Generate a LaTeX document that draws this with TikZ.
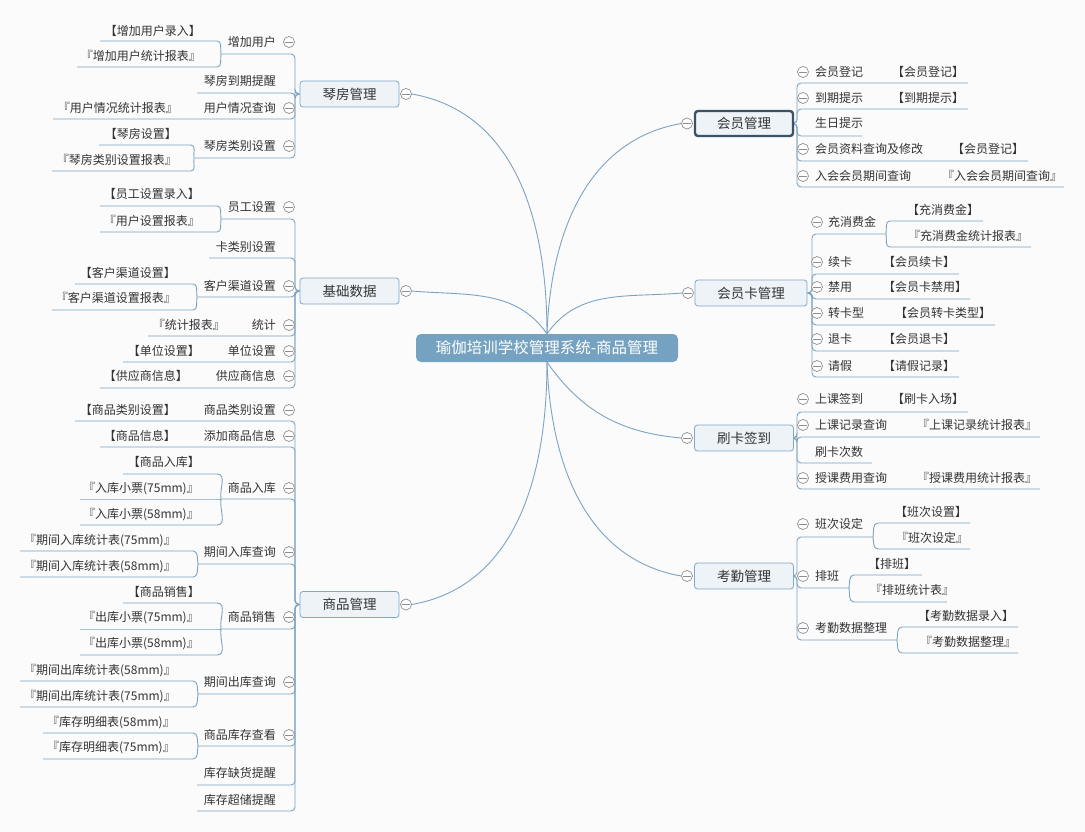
\documentclass[tikz,border=0pt]{standalone}
\usepackage{fontspec}
\setmainfont{Noto Sans CJK SC}
\usetikzlibrary{positioning}
\definecolor{bgc}{HTML}{FBFBFB}
\definecolor{lnc}{HTML}{7BA3C4}
\definecolor{bfill}{HTML}{EEF3F8}
\definecolor{bbord}{HTML}{7FA8C9}
\definecolor{darkb}{HTML}{3C5366}
\definecolor{tfill}{HTML}{76A2C2}
\definecolor{cgray}{HTML}{8E8E8E}
\definecolor{txt}{HTML}{333333}
\pgfdeclarelayer{bg}
\pgfdeclarelayer{lines}
\pgfsetlayers{bg,lines,main}
\tikzset{
  ln/.style={draw=lnc,line width=0.9pt},
  sub/.style={font=\fontsize{12}{14}\selectfont,text=txt,inner sep=0pt,text height=11pt,text depth=2pt},
  mainbox/.style={draw=bbord,fill=bfill,rounded corners=3pt,minimum width=99pt,minimum height=26pt,inner sep=0pt,font=\fontsize{13.5}{16}\selectfont,text=txt,line width=0.8pt},
  darkbox/.style={mainbox,draw=darkb,line width=2.4pt,minimum width=98pt,minimum height=25pt},
  titlebox/.style={fill=tfill,rounded corners=5pt,minimum width=262pt,minimum height=28pt,inner sep=0pt,text=white,font=\fontsize{15.5}{18}\selectfont},
  circ/.style={circle,draw=cgray,fill=white,minimum size=11pt,inner sep=0pt,line width=0.7pt,
    path picture={\draw[cgray,line width=0.7pt] ([xshift=-3.6pt]path picture bounding box.center) -- ([xshift=3.6pt]path picture bounding box.center);}}
}
% left child: name, box, text, text y, line left x, line y, circle flag
\newcommand\LChild[7]{%
  \node[sub,anchor=east] (#1) at (\LTX,-#4) {#3};
  \coordinate (#1-l) at (#5,-#6);
  \coordinate (#1-r) at (\LVX,-#6);
  \begin{pgfonlayer}{lines}\draw[ln,rounded corners=4pt] (#1-l) -- (#1-r) |- (#2.west);\end{pgfonlayer}
  \ifnum#7=1 \node[circ] (#1-c) at (\LCX,-#4) {};\fi
}
% left grandchild: name, apex, text, text right x, text y, line left x, line right x, line y, in angle
\newcommand\LG[9]{%
  \node[sub,anchor=east] (#1) at (#4,-#5) {#3};
  \coordinate (#1-l) at (#6,-#8);
  \coordinate (#1-r) at (#7,-#8);
  \begin{pgfonlayer}{lines}\draw[ln] (#1-l) -- (#1-r) to[out=0,in=#9] (#2);\end{pgfonlayer}
}
% right child: name, box, text, text y, line right x, line y, circle flag
\newcommand\RChild[7]{%
  \node[sub,anchor=west] (#1) at (\RTX,-#4) {#3};
  \coordinate (#1-l) at (\RVX,-#6);
  \coordinate (#1-r) at (#5,-#6);
  \begin{pgfonlayer}{lines}\draw[ln,rounded corners=4pt] (#1-r) -- (#1-l) |- (#2.east);\end{pgfonlayer}
  \ifnum#7=1 \node[circ] (#1-c) at (\RCX,-#4) {};\fi
}
% right grandchild: name, apex, text, text left x, text y, line left x, line right x, line y, in angle
\newcommand\RG[9]{%
  \node[sub,anchor=west] (#1) at (#4,-#5) {#3};
  \coordinate (#1-l) at (#6,-#8);
  \coordinate (#1-r) at (#7,-#8);
  \begin{pgfonlayer}{lines}\draw[ln] (#1-r) -- (#1-l) to[out=180,in=#9] (#2);\end{pgfonlayer}
}
\begin{document}
\begin{tikzpicture}[x=1pt,y=1pt]
\useasboundingbox (0,0) rectangle (1085,-832);
\begin{pgfonlayer}{bg}\fill[bgc] (0,0) rectangle (1085,-832);\end{pgfonlayer}

% centre
\node[titlebox] (T) at (547,-348) {瑜伽培训学校管理系统-商品管理};

% main boxes
\node[mainbox] (qf) at (349.5,-94) {琴房管理};
\node[mainbox] (jc) at (349.5,-291) {基础数据};
\node[mainbox] (sp) at (349.5,-604.5) {商品管理};
\node[darkbox] (hy) at (744,-123.5) {会员管理};
\node[mainbox,minimum width=112pt] (hk) at (751,-293) {会员卡管理};
\node[mainbox] (sk) at (744,-438) {刷卡签到};
\node[mainbox] (kq) at (744,-576) {考勤管理};

\node[circ] (qf-c) at (406,-94) {};
\node[circ] (jc-c) at (406,-291) {};
\node[circ] (sp-c) at (406,-604.5) {};
\node[circ] (hy-c) at (687,-123.5) {};
\node[circ] (hk-c) at (688,-293) {};
\node[circ] (sk-c) at (687,-438) {};
\node[circ] (kq-c) at (687,-576) {};

\begin{pgfonlayer}{lines}
\draw[ln] (T.north) to[out=90,in=-10] (qf-c.east);
\draw[ln] (T.north) to[out=125,in=-5] (jc-c.east);
\draw[ln] (T.south) to[out=-90,in=10] (sp-c.east);
\draw[ln] (T.north) to[out=88,in=190] (hy-c.west);
\draw[ln] (T.north) to[out=55,in=185] (hk-c.west);
\draw[ln] (T.south) to[out=-55,in=175] (sk-c.west);
\draw[ln] (T.south) to[out=-88,in=170] (kq-c.west);
\end{pgfonlayer}

% ---------- left side ----------
\def\LVX{295}\def\LCX{289}\def\LTX{276}
% 琴房管理
\LChild{q1}{qf}{增加用户}{42}{221}{54}{1}
\LG{q11}{q1-l}{【增加用户录入】}{201}{31}{100}{217}{41}{100}
\LG{q12}{q1-l}{『增加用户统计报表』}{201}{56}{77}{217}{67}{-100}
\LChild{q2}{qf}{琴房到期提醒}{81}{197}{93}{0}
\LChild{q3}{qf}{用户情况查询}{108}{53}{119}{1}
\node[sub,anchor=east] (q31) at (178,-108) {『用户情况统计报表』};
\LChild{q4}{qf}{琴房类别设置}{146}{194}{158}{1}
\LG{q41}{q4-l}{【琴房设置】}{177}{134}{99}{191}{145}{100}
\LG{q42}{q4-l}{『琴房类别设置报表』}{177}{160}{52}{191}{171}{-100}
% 基础数据
\LChild{j1}{jc}{员工设置}{207}{221}{219}{1}
\LG{j11}{j1-l}{【员工设置录入】}{200}{194}{100}{217}{206}{100}
\LG{j12}{j1-l}{『用户设置报表』}{200}{221}{100}{217}{232}{-100}
\LChild{j2}{jc}{卡类别设置}{247}{209}{258}{0}
\LChild{j3}{jc}{客户渠道设置}{286}{197}{297}{1}
\LG{j31}{j3-l}{【客户渠道设置】}{176}{273}{75}{193}{284}{100}
\LG{j32}{j3-l}{『客户渠道设置报表』}{176}{298}{52}{193}{310}{-100}
\LChild{j4}{jc}{统计}{325}{148}{336}{1}
\node[sub,anchor=east] (j41) at (225,-325) {『统计报表』};
\LChild{j5}{jc}{单位设置}{351}{123}{362}{1}
\node[sub,anchor=east] (j51) at (200,-351) {【单位设置】};
\LChild{j6}{jc}{供应商信息}{376}{100}{388}{1}
\node[sub,anchor=east] (j61) at (188,-376) {【供应商信息】};
% 商品管理
\LChild{s1}{sp}{商品类别设置}{410}{75}{421}{1}
\node[sub,anchor=east] (s11) at (176,-410) {【商品类别设置】};
\LChild{s2}{sp}{添加商品信息}{436}{100}{447}{1}
\node[sub,anchor=east] (s21) at (176,-436) {【商品信息】};
\LChild{s3}{sp}{商品入库}{488}{221}{499}{1}
\LG{s31}{s3-l}{【商品入库】}{200}{462}{123}{217}{474}{100}
\LG{s32}{s3-l}{『入库小票(75mm)』}{199}{488}{80}{217}{499}{180}
\LG{s33}{s3-l}{『入库小票(58mm)』}{199}{514}{80}{217}{525}{-100}
\LChild{s4}{sp}{期间入库查询}{552}{198}{564}{1}
\LG{s41}{s4-l}{『期间入库统计表(75mm)』}{176}{540}{20}{193}{551}{100}
\LG{s42}{s4-l}{『期间入库统计表(58mm)』}{176}{566}{20}{193}{577}{-100}
\LChild{s5}{sp}{商品销售}{617}{221}{629}{1}
\LG{s51}{s5-l}{【商品销售】}{200}{592}{123}{217}{603}{100}
\LG{s52}{s5-l}{『出库小票(75mm)』}{199}{617}{80}{217}{629}{180}
\LG{s53}{s5-l}{『出库小票(58mm)』}{199}{643}{80}{217}{655}{-100}
\LChild{s6}{sp}{期间出库查询}{682}{198}{694}{1}
\LG{s61}{s6-l}{『期间出库统计表(58mm)』}{176}{670}{20}{193}{681}{100}
\LG{s62}{s6-l}{『期间出库统计表(75mm)』}{176}{696}{20}{193}{707}{-100}
\LChild{s7}{sp}{商品库存查看}{735}{198}{746}{1}
\LG{s71}{s7-l}{『库存明细表(58mm)』}{175}{722}{43}{193}{733}{100}
\LG{s72}{s7-l}{『库存明细表(75mm)』}{175}{747}{43}{193}{759}{-100}
\LChild{s8}{sp}{库存缺货提醒}{773}{197}{785}{0}
\LChild{s9}{sp}{库存超储提醒}{800}{197}{811}{0}

% ---------- right side ----------
\def\RVX{797}\def\RCX{803}\def\RTX{815}
% 会员管理
\RChild{h1}{hy}{会员登记}{72}{968}{83}{1}
\node[sub,anchor=west] (h11) at (892,-72) {【会员登记】};
\RChild{h2}{hy}{到期提示}{98}{968}{109}{1}
\node[sub,anchor=west] (h21) at (892,-98) {【到期提示】};
\RChild{h3}{hy}{生日提示}{123}{862}{136}{0}
\RChild{h4}{hy}{会员资料查询及修改}{149}{1028}{161}{1}
\node[sub,anchor=west] (h41) at (952,-149) {【会员登记】};
\RChild{h5}{hy}{入会会员期间查询}{176}{1064}{187}{1}
\node[sub,anchor=west] (h51) at (942,-176) {『入会会员期间查询』};
% 刷卡签到
\RChild{r1}{sk}{上课签到}{399}{968}{412}{1}
\node[sub,anchor=west] (r11) at (892,-399) {【刷卡入场】};
\RChild{r2}{sk}{上课记录查询}{425}{1040}{437}{1}
\node[sub,anchor=west] (r21) at (917,-425) {『上课记录统计报表』};
\RChild{r3}{sk}{刷卡次数}{452}{872}{463}{0}
\RChild{r4}{sk}{授课费用查询}{478}{1040}{489}{1}
\node[sub,anchor=west] (r41) at (917,-478) {『授课费用统计报表』};
% 考勤管理
\RChild{a1}{kq}{班次设定}{524}{873}{537}{1}
\RG{a11}{a1-r}{【班次设置】}{895}{512}{878}{970}{523}{80}
\RG{a12}{a1-r}{『班次设定』}{896}{538}{878}{970}{549}{-80}
\RChild{a2}{kq}{排班}{576}{849}{588}{1}
\RG{a21}{a2-r}{【排班】}{868}{564}{854}{922}{575}{80}
\RG{a22}{a2-r}{『排班统计表』}{870}{590}{854}{947}{602}{-80}
\RChild{a3}{kq}{考勤数据整理}{628}{897}{640}{1}
\RG{a31}{a3-r}{【考勤数据录入】}{918}{616}{902}{1018}{627}{80}
\RG{a32}{a3-r}{『考勤数据整理』}{920}{642}{902}{1018}{653}{-80}
% 会员卡管理
\def\RVX{812}\def\RCX{817}\def\RTX{828}
\RChild{k1}{hk}{充消费金}{222}{886}{234}{1}
\RG{k11}{k1-r}{【充消费金】}{907}{210}{890}{983}{221}{80}
\RG{k12}{k1-r}{『充消费金统计报表』}{908}{236}{890}{1031}{247}{-80}
\RChild{k2}{hk}{续卡}{262}{959}{274}{1}
\node[sub,anchor=west] (k21) at (883,-262) {【会员续卡】};
\RChild{k3}{hk}{禁用}{287}{970}{299}{1}
\node[sub,anchor=west] (k31) at (883,-287) {【会员卡禁用】};
\RChild{k4}{hk}{转卡型}{313}{995}{325}{1}
\node[sub,anchor=west] (k41) at (895,-313) {【会员转卡类型】};
\RChild{k5}{hk}{退卡}{339}{959}{351}{1}
\node[sub,anchor=west] (k51) at (883,-339) {【会员退卡】};
\RChild{k6}{hk}{请假}{366}{959}{377}{1}
\node[sub,anchor=west] (k61) at (883,-366) {【请假记录】};
\end{tikzpicture}
\end{document}
